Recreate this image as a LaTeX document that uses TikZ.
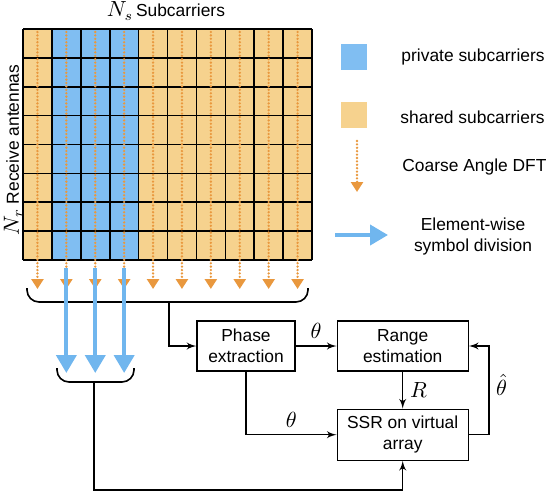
\documentclass[tikz,border=0pt]{standalone}
\usepackage{fontspec}
\setmainfont{Liberation Sans}
\usepackage{amsmath}
\usepackage{tikz}
\usetikzlibrary{positioning}
\usetikzlibrary{shapes,arrows,arrows.meta}
\definecolor{privblue}{RGB}{128,190,242}
\definecolor{sharedorange}{RGB}{246,210,142}
\definecolor{dftorange}{RGB}{233,152,62}
\definecolor{arrowblue}{RGB}{112,182,238}
\tikzstyle{block} = [rectangle, draw, fill=white, align=center, inner sep=0pt,
minimum height=25pt, line width=0.6pt]
\tikzstyle{line} = [draw, line width=0.7pt, -latex']
\tikzstyle{sym} = [font=\fontsize{11}{12}\selectfont]
\tikzstyle{dft} = [draw=dftorange, line width=1.3pt, line cap=round, dash pattern=on 0pt off 1.7pt,
-{Triangle[width=6pt,length=5pt]}]
\tikzstyle{symdiv} = [draw=arrowblue, line width=2pt, -{Triangle[width=10pt,length=9pt]}]
\tikzstyle{brace} = [draw, line width=0.8pt, rounded corners=6pt]

\begin{document}
\begin{tikzpicture}[x=0.5pt, y=-0.5pt, every node/.style={font=\fontsize{8.7}{10.5}\selectfont}]
  \useasboundingbox (0,0) rectangle (550,493);

    % grid of subcarriers
    \fill[sharedorange] (23,29) rectangle (312,260);
    \fill[privblue] (51.9,29) rectangle (138.7,260);
    \foreach \c in {0,...,10}
      \draw[line width=0.8pt] (23+28.9*\c,29) -- (23+28.9*\c,260);
    \foreach \r in {0,...,8}
      \draw[line width=0.8pt] (23,29+28.875*\r) -- (312,29+28.875*\r);
    \foreach \c in {0,...,9}
      \draw[dft] (37.45+28.9*\c,32) -- (37.45+28.9*\c,289);
    \node (title) at (166,11) {{\fontsize{10.5}{12}\selectfont$N_s$}\,Subcarriers};
    \node[rotate=90] (antennas) at (13,150) {{\fontsize{10.5}{12}\selectfont$N_r$} Receive antennas};

    % braces
    \coordinate (bigbrace) at (169,302);
    \coordinate (smallbrace) at (94,382);
    \draw[brace] (27,288) |- (bigbrace) -| (308,288);
    \draw[brace] (57,368) |- (smallbrace) -| (134,368);
    \foreach \c in {1,2,3}
      \draw[symdiv] (37.45+28.9*\c,268) -- (37.45+28.9*\c,373);

    % Place nodes
    \node [block, minimum width=49pt] (phase) at (246,346) {Phase\\extraction};
    \node [block, minimum width=65.5pt, right=20.5pt of phase] (range) {Range\\estimation};
    \node [block, minimum width=65.5pt, minimum height=25.5pt, below=18.5pt of range] (ssr) {SSR on virtual\\array};

    % legend
    \node [fill=privblue, minimum size=13pt, inner sep=0pt] (privkey) at (354,57) {};
    \node [right=13.5pt of privkey] (privtext) {private subcarriers};
    \node [fill=sharedorange, minimum size=13pt, inner sep=0pt] (sharedkey) at (354,115) {};
    \node [right=13pt of sharedkey, yshift=-1pt] (sharedtext) {shared subcarriers};
    \coordinate (dfttop) at (357,141);
    \draw[dft] (dfttop) -- ++(0,51);
    \node [anchor=west, inner sep=0pt] (dfttext) at (402,167) {Coarse Angle DFT};
    \coordinate (symstart) at (335,235);
    \draw[symdiv] (symstart) -- ++(53,0);
    \node [align=center] (symtext) at (473,236) {Element-wise\\symbol division};

    % edges
    \path [line] (bigbrace) |- (phase.west);
    \path [line] (phase.east) -- node[above, sym] {$\theta$} (range.west);
    \path [line] (range.south) -- node[right, sym] {$R$} (ssr.north);
    \path [line] (phase.south) |- node[above, pos=0.75, sym] {$\theta$} (ssr.west);
    \path [line] (ssr.east) -- ++(20,0) |- node[right, pos=0.28, sym] {$\hat{\theta}$} (range.east);
    \path [line] (smallbrace) -- ++(0,108) -| (ssr.south);
\end{tikzpicture}
\end{document}
